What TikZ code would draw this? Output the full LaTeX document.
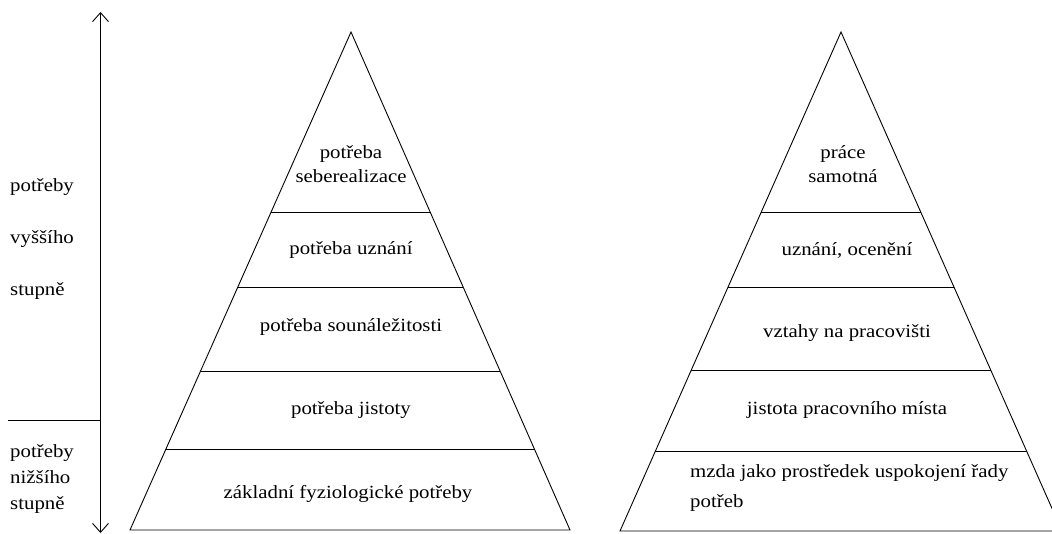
\documentclass[tikz,border=0pt]{standalone}
\usepackage{fontspec}
\setmainfont{Liberation Serif}[FakeStretch=1.12]
\usetikzlibrary{arrows.meta,calc}
\begin{document}
\begin{tikzpicture}[x=1pt,y=-1pt,
  edge/.style={line width=0.9pt,black},
  lbl/.style={inner sep=0pt,font=\fontsize{18.6}{22}\selectfont},
  barb/.style={{Straight Barb[length=9pt,width=16pt]}-{Straight Barb[length=9pt,width=16pt]}}
]
\useasboundingbox (0,0) rectangle (1052,533);
\clip (0,0) rectangle (1052,533);
% axis arrow
\coordinate (atop) at (100.5,12);
\coordinate (abot) at (100.5,533);
\draw[edge,barb] (atop) -- (abot);
\coordinate (hl) at (8,420);
\draw[edge] (hl) -- (hl -| atop);
% side labels
\node[lbl,anchor=west,align=left] (up) at (10,239) {potřeby\\[30pt]vyššího\\[30pt]stupně};
\node[lbl,anchor=west,align=left] (lo) at (10,479) {potřeby\\[4pt]nižšího\\[4pt]stupně};
% left pyramid
\coordinate (LA) at (351,32);
\coordinate (LL) at (130,530);
\coordinate (LR) at (570,530);
\draw[edge] (LA) -- (LL) -- (LR) -- cycle;
\foreach \t in {0.3614,0.512,0.681,0.839}
  \draw[edge] ($(LA)!\t!(LL)$) -- ($(LA)!\t!(LR)$);
\node[lbl,align=center] (l1) at (351,164) {potřeba\\[2pt]seberealizace};
\node[lbl] (l2) at (351,250) {potřeba uznání};
\node[lbl] (l3) at (351,327) {potřeba sounáležitosti};
\node[lbl] (l4) at (351,410) {potřeba jistoty};
\node[lbl] (l5) at (348,494) {základní fyziologické potřeby};
% right pyramid
\coordinate (RA) at (841,32);
\coordinate (RL) at (620,531);
\coordinate (RR) at (1062,531);
\draw[edge] (RA) -- (RL) -- (RR) -- cycle;
\foreach \t in {0.3614,0.512,0.679,0.841}
  \draw[edge] ($(RA)!\t!(RL)$) -- ($(RA)!\t!(RR)$);
\node[lbl,align=center] (r1) at (843,164) {práce\\[2pt]samotná};
\node[lbl] (r2) at (847,250) {uznání, ocenění};
\node[lbl] (r3) at (847,333) {vztahy na pracovišti};
\node[lbl] (r4) at (847,410) {jistota pracovního místa};
\node[lbl,anchor=west,align=left] (r5) at (690,488) {mzda jako prostředek uspokojení řady\\[8pt]potřeb};
\end{tikzpicture}
\end{document}
